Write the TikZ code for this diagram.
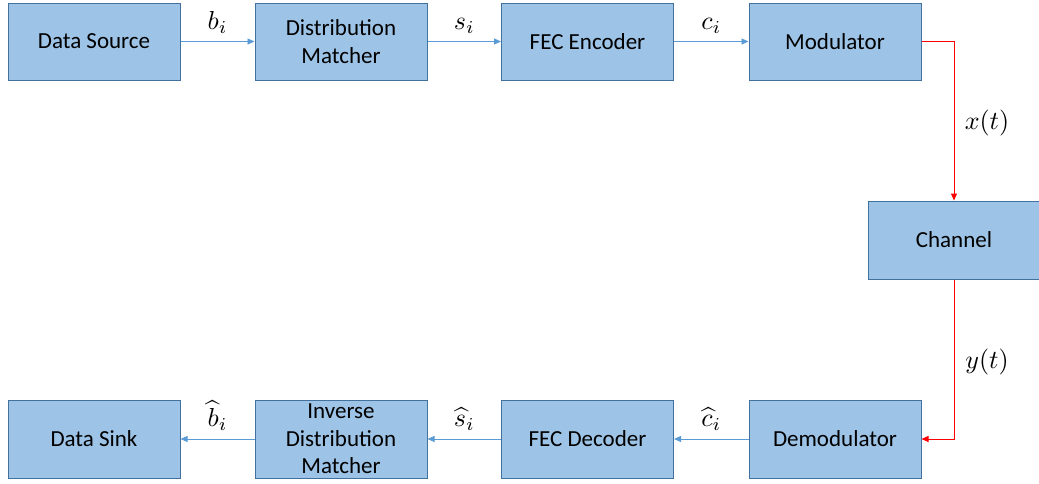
\documentclass[tikz,border=0pt]{standalone}
\usepackage{graphicx}
\usepackage{fontspec}
\setmainfont{Carlito}
\usetikzlibrary{arrows.meta,positioning}
\definecolor{boxfill}{HTML}{9DC3E6}
\definecolor{boxline}{HTML}{41719C}
\definecolor{linkblue}{HTML}{5B9BD5}
\definecolor{sigred}{HTML}{FF0000}
\newcommand{\sig}[1]{\scalebox{2.6}{$#1$}}
\tikzset{
  block/.style={draw=boxline, line width=1pt, fill=boxfill, minimum width=172pt,
    minimum height=77pt, align=center, inner sep=2pt,
    font=\fontsize{23}{27.5}\selectfont},
  link/.style={draw=linkblue, line width=0.9pt, -{Triangle[length=7pt,width=6pt]}},
  signal/.style={draw=sigred, line width=1pt, -{Triangle[length=7pt,width=6pt]}},
  lbl/.style={inner sep=0pt}
}
\begin{document}
\begin{tikzpicture}[x=1pt,y=-1pt]
\useasboundingbox (0,0) rectangle (1039,483);
% transmitter chain
\node[block] (src) at (94,41.5) {Data Source};
\node[block] (dm)  at (341,41.5) {Distribution\\Matcher};
\node[block] (enc) at (587.5,41.5) {FEC Encoder};
\node[block] (mod) at (835,41.5) {Modulator};
% channel
\node[block, minimum width=171pt, minimum height=78pt] (chan) at (954,240) {Channel};
% receiver chain
\node[block, minimum height=78pt] (sink)  at (94,439) {Data Sink};
\node[block, minimum height=78pt] (idm)   at (341,439) {Inverse\\Distribution\\Matcher};
\node[block, minimum height=78pt] (dec)   at (587.5,439) {FEC Decoder};
\node[block, minimum height=78pt] (demod) at (835,439) {Demodulator};
% forward links
\draw[link] (src) -- (dm) node[lbl, midway, above=8pt] (lb) {\sig{b_i}};
\draw[link] (dm) -- (enc) node[lbl, midway, above=8pt] (ls) {\sig{s_i}};
\draw[link] (enc) -- (mod) node[lbl, midway, above=8pt] (lc) {\sig{c_i}};
% channel links
\draw[signal] (mod.east) -| (chan.north);
\node[lbl] (lx) at (987,123) {\sig{x(t)}};
\draw[signal] (chan.south) |- (demod.east);
\node[lbl] (ly) at (987,362) {\sig{y(t)}};
% backward links
\draw[link] (demod) -- (dec) node[lbl, midway, above=8pt] (lch) {\sig{\widehat{c}_i}};
\draw[link] (dec) -- (idm) node[lbl, midway, above=8pt] (lsh) {\sig{\widehat{s}_i}};
\draw[link] (idm) -- (sink) node[lbl, midway, above=8pt] (lbh) {\sig{\widehat{b}_i}};
\end{tikzpicture}
\end{document}
